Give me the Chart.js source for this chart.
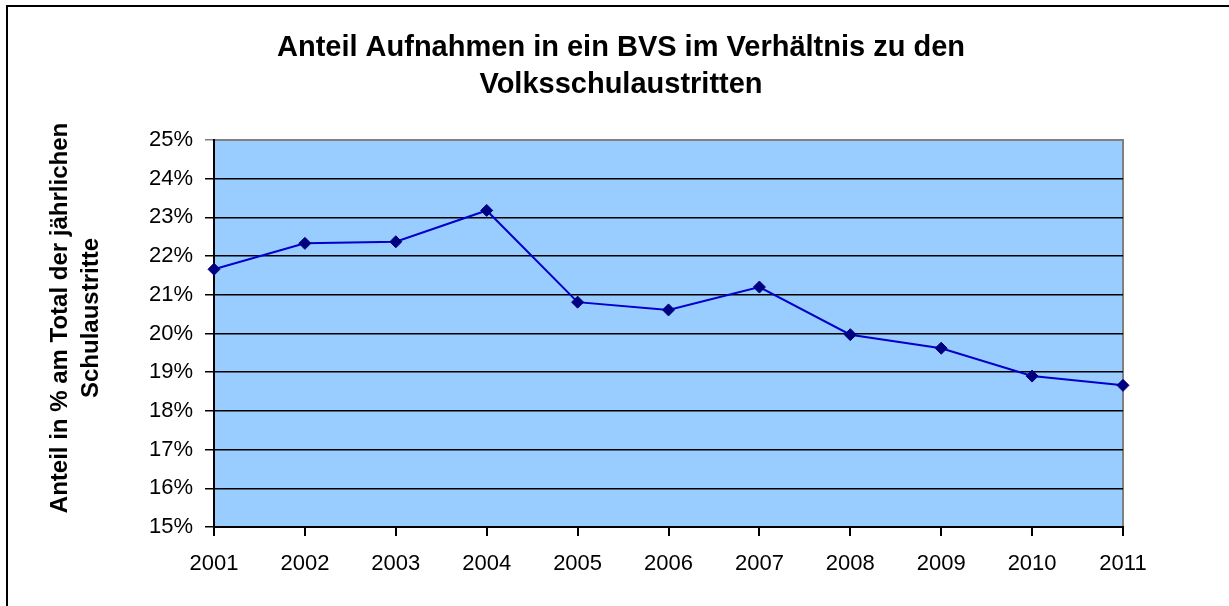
<!DOCTYPE html>
<html>
<head>
<meta charset="utf-8">
<script src="https://cdn.jsdelivr.net/npm/chart.js@4"></script>
<style>
  html, body { margin: 0; padding: 0; background: #ffffff; }
  canvas { display: block; }
</style>
</head>
<body>
<canvas id="c" width="1229" height="606"></canvas>
<script>
const years = ['2001','2002','2003','2004','2005','2006','2007','2008','2009','2010','2011'];
const shares = [21.66, 22.33, 22.37, 23.18, 20.81, 20.61, 21.20, 19.97, 19.62, 18.90, 18.66];
const titleLines = ['Anteil Aufnahmen in ein BVS im Verhältnis zu den', 'Volksschulaustritten'];
const yTitleLines = ['Anteil in % am Total der jährlichen', 'Schulaustritte'];
const yMin = 15, yMax = 25, yStep = 1;

const FONT = '"Liberation Sans", Arial, sans-serif';

const decor = {
  id: 'decor',
  beforeDraw(chart) {
    const ctx = chart.ctx;
    const a = chart.chartArea;
    ctx.save();
    ctx.fillStyle = '#ffffff';
    ctx.fillRect(0, 0, chart.width, chart.height);
    ctx.fillStyle = '#000000';
    ctx.fillRect(6, 5, chart.width - 6, 2);
    ctx.fillRect(6, 5, 2, chart.height - 5);
    ctx.fillStyle = '#99CCFF';
    ctx.fillRect(a.left, a.top, a.right - a.left, a.bottom - a.top);
    ctx.strokeStyle = '#808080';
    ctx.lineWidth = 2;
    ctx.beginPath();
    ctx.moveTo(a.left, a.top);
    ctx.lineTo(a.right, a.top);
    ctx.lineTo(a.right, a.bottom);
    ctx.stroke();
    ctx.restore();
  },
  afterDraw(chart) {
    const ctx = chart.ctx;
    ctx.save();
    ctx.fillStyle = '#000000';
    ctx.textAlign = 'center';
    ctx.textBaseline = 'alphabetic';
    ctx.font = 'bold 29px ' + FONT;
    ctx.fillText(titleLines[0], 621, 56);
    ctx.fillText(titleLines[1], 621, 93);
    ctx.font = 'bold 24px ' + FONT;
    ctx.translate(67, 318);
    ctx.rotate(-Math.PI / 2);
    ctx.fillText(yTitleLines[0], 0, 0);
    ctx.fillText(yTitleLines[1], 0, 31);
    ctx.restore();
  }
};

new Chart(document.getElementById('c'), {
  type: 'line',
  data: {
    labels: years,
    datasets: [{
      data: shares,
      borderColor: '#0000CC',
      borderWidth: 2,
      pointStyle: 'rectRot',
      pointRadius: 6,
      pointBackgroundColor: '#000080',
      pointBorderColor: '#000080',
      pointBorderWidth: 1,
      tension: 0,
      clip: false
    }]
  },
  options: {
    responsive: false,
    animation: false,
    devicePixelRatio: 1,
    layout: { padding: { top: 140, right: 106, bottom: 0, left: 0 } },
    plugins: { legend: { display: false }, title: { display: false }, tooltip: { enabled: false } },
    scales: {
      x: {
        offset: false,
        afterFit(s) { s.height = 79; },
        grid: { drawOnChartArea: false, drawTicks: true, tickLength: 9, color: '#000000', lineWidth: 2 },
        border: { display: true, color: '#000000', width: 2 },
        ticks: { color: '#000000', font: { family: FONT, size: 22 }, padding: 15, maxRotation: 0, autoSkip: false }
      },
      y: {
        min: yMin,
        max: yMax,
        afterFit(s) { s.width = 214; },
        grid: {
          drawOnChartArea: true,
          drawTicks: true,
          tickLength: 9,
          color: (c) => (c.tick && c.tick.value === yMax) ? '#808080' : '#000000',
          lineWidth: 1.5
        },
        border: { display: true, color: '#000000', width: 2 },
        ticks: {
          stepSize: yStep,
          color: '#000000',
          font: { family: FONT, size: 22 },
          padding: 12,
          callback: (v) => v + '%'
        }
      }
    }
  },
  plugins: [decor]
});
</script>
</body>
</html>
